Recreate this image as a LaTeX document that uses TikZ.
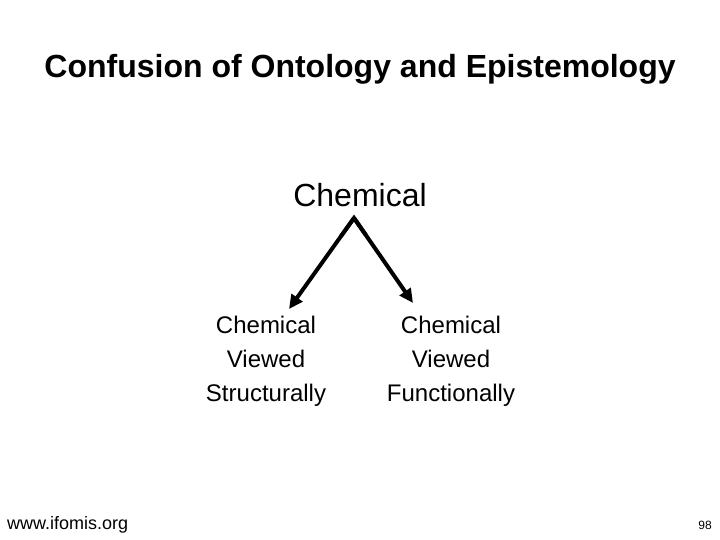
\documentclass[tikz,border=0pt]{standalone}
\usepackage{fontspec}
\setmainfont{Liberation Sans}
\usetikzlibrary{arrows.meta,calc}
\begin{document}
\begin{tikzpicture}[x=1pt,y=-1pt,
  lbl/.style={inner sep=0pt,align=center,font=\fontsize{24}{34}\selectfont},
  arr/.style={line width=4pt,-{Triangle[length=14pt,width=13pt]},line join=miter}]
\useasboundingbox[fill=white] (0,0) rectangle (720,540);
\node[inner sep=0pt,font=\fontsize{32}{36}\selectfont\bfseries] (title) at (360,69) {Confusion of Ontology and Epistemology};
\node[inner sep=0pt,font=\fontsize{32}{36}\selectfont] (chem) at (360,195) {Chemical};
\coordinate (apex) at (354,218);
\coordinate (lt) at (289,309);
\coordinate (rt) at (413,303);
\node[lbl] (left) at (266,361) {Chemical\\Viewed\\Structurally};
\node[lbl] (right) at (451,361) {Chemical\\Viewed\\Functionally};
\draw[arr] (apex) -- (lt);
\draw[arr] (apex) -- (rt);
\draw[line width=4pt,line join=miter] ($(apex)!0.2!(lt)$) -- (apex) -- ($(apex)!0.2!(rt)$);
\node[inner sep=0pt,anchor=west,font=\fontsize{18}{20}\selectfont] (url) at (7,525) {www.ifomis.org};
\node[inner sep=0pt,anchor=east,font=\fontsize{12}{14}\selectfont] (num) at (712,525) {98};
\end{tikzpicture}
\end{document}
